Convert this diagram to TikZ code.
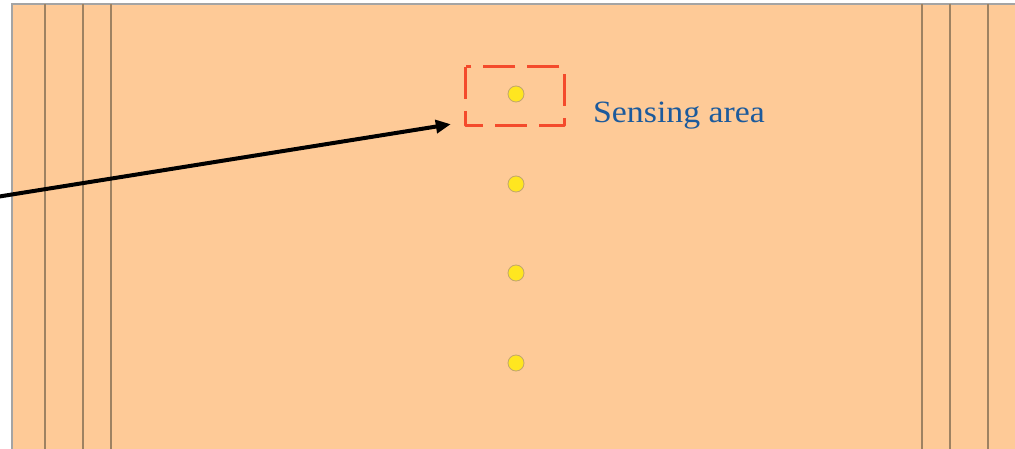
\documentclass[tikz,border=0pt]{standalone}
\usepackage{graphicx}
\usepackage{fontspec}
\setmainfont{Liberation Serif}
\usetikzlibrary{arrows.meta,calc}
\definecolor{board}{HTML}{FECA97}
\definecolor{rail}{HTML}{9E8262}
\definecolor{frame}{HTML}{A4A4A4}
\definecolor{pad}{HTML}{FFE620}
\definecolor{padrim}{HTML}{C2A66C}
\definecolor{zone}{HTML}{F44B2C}
\definecolor{caption}{HTML}{1C5A9C}
\tikzset{
  railline/.style={draw=rail, line width=1.4pt},
  padnode/.style={circle, fill=pad, draw=padrim, line width=0.8pt, minimum size=16pt, inner sep=0pt},
  zonebox/.style={draw=zone, line width=3pt, dash pattern=on 32pt off 12pt, line join=round},
  pointer/.style={draw=black, line width=4pt, -{Triangle[length=15pt,width=13pt]}},
  captiontext/.style={text=caption, font=\fontsize{31}{36}\selectfont, inner sep=0pt, anchor=base west}
}
\begin{document}
\begin{tikzpicture}[x=1pt,y=-1pt]
\useasboundingbox (0,0) rectangle (1015,449);
\clip (0,0) rectangle (1015,449);
% board outline
\fill[board] (12,4) rectangle (1030,460);
\draw[frame, line width=1.4pt] (1030,4) -- (12,4) -- (12,460);
% edge rails
\foreach \x in {45,83,111,922,950,988}
  \draw[railline] (\x,4) -- (\x,460);
% pads
\node[padnode] (d1) at (516,94) {};
\node[padnode] (d2) at (516,184) {};
\node[padnode] (d3) at (516,273) {};
\node[padnode] (d4) at (516,363) {};
% sensing zone around the first pad
\node[minimum width=98pt, minimum height=58pt, inner sep=0pt] (sense) at (515,96) {};
\draw[zonebox] (sense.north west) rectangle (sense.south east);
\node[captiontext] (label) at (593,123) {\scalebox{1.09}[1]{Sensing area}};
% pointer coming in from the left
\coordinate (src) at (-10,198);
\coordinate (tip) at ($(sense.south west)+(-15,-1)$);
\draw[pointer] (src) -- (tip);
\end{tikzpicture}
\end{document}
